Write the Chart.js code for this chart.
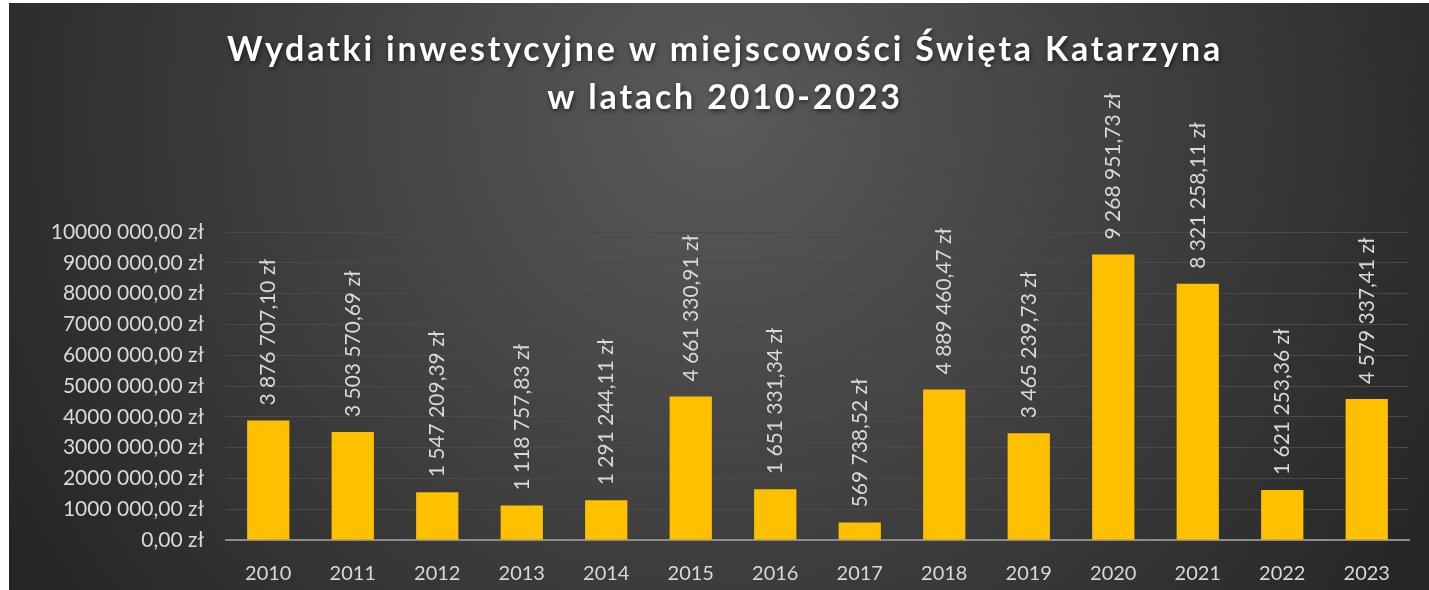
<!DOCTYPE html>
<html>
<head>
<meta charset="utf-8">
<script src="https://cdn.jsdelivr.net/npm/chart.js@4.4.1/dist/chart.umd.min.js"></script>
<style>
  html, body { margin: 0; padding: 0; background: #fff; }
  #wrap { position: absolute; left: 9px; top: 3px; width: 1420px; height: 587px; }
</style>
</head>
<body>
<div id="wrap"><canvas id="chart"></canvas></div>
<script>
const years = ['2010', '2011', '2012', '2013', '2014', '2015', '2016', '2017', '2018', '2019', '2020', '2021', '2022', '2023'];
const expenses = [3876707.10, 3503570.69, 1547209.39, 1118757.83, 1291244.11, 4661330.91, 1651331.34,
  569738.52, 4889460.47, 3465239.73, 9268951.73, 8321258.11, 1621253.36, 4579337.41];
const titleLines = ['Wydatki inwestycyjne w miejscowości Święta Katarzyna', 'w latach 2010-2023'];

const FONT = 'Lato, "Open Sans", sans-serif';
const TEXT_COLOR = '#d9d9d9';

// "9 268 951,73 zł"
function fmtFull(v) {
  const parts = v.toFixed(2).split('.');
  const int = parts[0].replace(/\B(?=(\d{3})+(?!\d))/g, ' ');
  return int + ',' + parts[1] + ' zł';
}

// axis format: "10000 000,00 zł" (only the last group separated)
function fmtAxis(v) {
  if (v === 0) return '0,00 zł';
  const int = Math.round(v).toString();
  return int.slice(0, -3) + ' ' + int.slice(-3) + ',00 zł';
}

const backgroundPlugin = {
  id: 'background',
  beforeDraw(chart) {
    const { ctx, width, height } = chart;
    ctx.save();
    const g = ctx.createRadialGradient(width / 2, 110, 0, width / 2, 110, 820);
    g.addColorStop(0, '#5a5a5a');
    g.addColorStop(1, '#262626');
    ctx.fillStyle = g;
    ctx.fillRect(0, 0, width, height);

    // title with soft shadow
    ctx.font = 'bold 34px ' + FONT;
    ctx.letterSpacing = '2.8px';
    ctx.fillStyle = '#ffffff';
    ctx.textAlign = 'center';
    ctx.textBaseline = 'middle';
    ctx.shadowColor = 'rgba(0,0,0,0.6)';
    ctx.shadowBlur = 5;
    ctx.shadowOffsetX = 1;
    ctx.shadowOffsetY = 2;
    titleLines.forEach((line, i) => {
      ctx.fillText(line, width / 2 + 6, 47 + i * 48);
    });
    ctx.restore();
  }
};

const barLabelPlugin = {
  id: 'barLabels',
  afterDatasetsDraw(chart) {
    const { ctx } = chart;
    const meta = chart.getDatasetMeta(0);
    ctx.save();
    ctx.font = '21px ' + FONT;
    ctx.fillStyle = TEXT_COLOR;
    ctx.textAlign = 'left';
    ctx.textBaseline = 'middle';
    meta.data.forEach((bar, i) => {
      ctx.save();
      ctx.translate(bar.x, bar.y - 15);
      ctx.rotate(-Math.PI / 2);
      ctx.fillText(fmtFull(expenses[i]), 0, 0);
      ctx.restore();
    });
    ctx.restore();
  }
};

new Chart(document.getElementById('chart'), {
  type: 'bar',
  data: {
    labels: years,
    datasets: [{
      data: expenses,
      backgroundColor: '#ffc000',
      borderWidth: 0,
      barPercentage: 0.5,
      categoryPercentage: 1.0
    }]
  },
  options: {
    responsive: true,
    maintainAspectRatio: false,
    animation: false,
    layout: { padding: { left: 41, right: 20, top: 229, bottom: 0 } },
    plugins: {
      legend: { display: false },
      title: { display: false },
      tooltip: { enabled: false }
    },
    scales: {
      x: {
        grid: { display: false, drawTicks: false },
        border: { display: true, color: '#8c8c8c', width: 2 },
        ticks: { color: TEXT_COLOR, font: { family: FONT, size: 20 }, padding: 22 },
        afterFit(scale) { scale.height = 50; }
      },
      y: {
        min: 0,
        max: 10000000,
        grid: { color: '#4a4a4a', lineWidth: 1, drawTicks: false },
        border: { display: false },
        ticks: {
          stepSize: 1000000,
          color: TEXT_COLOR,
          font: { family: FONT, size: 21 },
          padding: 22,
          callback: v => fmtAxis(v)
        },
        afterFit(scale) { scale.width = 176; }
      }
    }
  },
  plugins: [backgroundPlugin, barLabelPlugin]
});
</script>
</body>
</html>
